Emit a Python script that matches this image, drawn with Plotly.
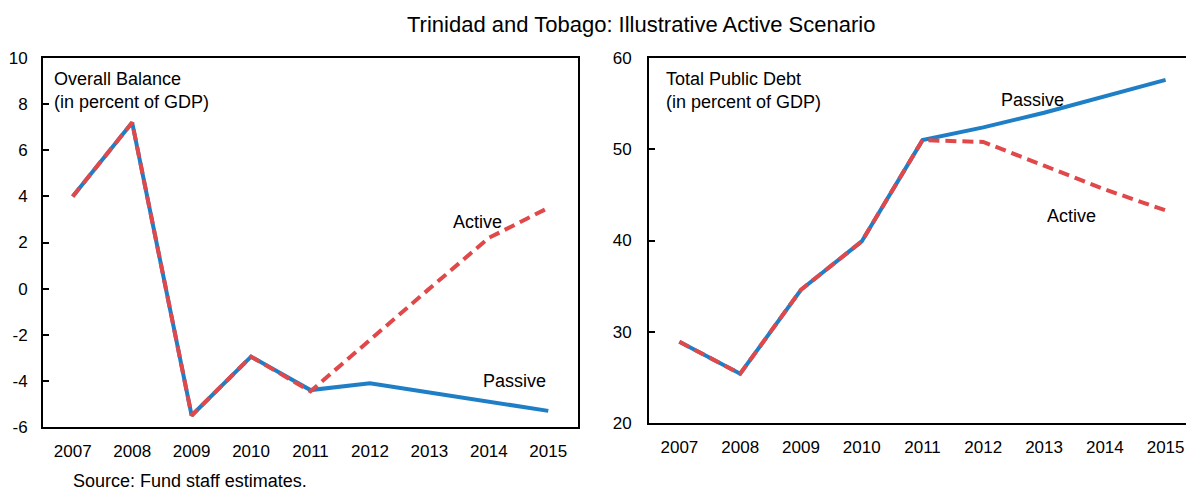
import plotly.graph_objects as go

years = ["2007", "2008", "2009", "2010", "2011", "2012", "2013", "2014", "2015"]
bal_passive = [4.0, 7.2, -5.5, -2.95, -4.4, -4.1, -4.5, -4.9, -5.3]
bal_active = [4.0, 7.2, -5.5, -2.95, -4.45, -2.2, 0.0, 2.2, 3.5]
debt_passive = [28.9, 25.4, 34.6, 39.9, 51.0, 52.4, 54.0, 55.8, 57.6]
debt_active = [28.9, 25.4, 34.6, 39.9, 51.0, 50.8, 48.2, 45.6, 43.3]
left_yticks = [-6, -4, -2, 0, 2, 4, 6, 8, 10]
left_yticktext = ["-6", "-4", "-2", "0", "2", "4", "6", "8", "10"]
right_yticks = [20, 30, 40, 50, 60]

W, H = 1186, 493
BLUE = "#1f7fc6"
RED = "#e0484a"
FONT = "Liberation Sans, Arial, sans-serif"
xs = list(range(len(years)))

def px_x(p):
    return p / W

def px_y(p):
    return 1 - p / H

fig = go.Figure()

fig.add_trace(go.Scatter(x=xs, y=bal_passive, mode="lines", line=dict(color=BLUE, width=4),
                         xaxis="x", yaxis="y", showlegend=False))
fig.add_trace(go.Scatter(x=xs, y=bal_active, mode="lines", line=dict(color=RED, width=4, dash="11px,6px"),
                         xaxis="x", yaxis="y", showlegend=False))
fig.add_trace(go.Scatter(x=xs, y=debt_passive, mode="lines", line=dict(color=BLUE, width=4),
                         xaxis="x2", yaxis="y2", showlegend=False))
fig.add_trace(go.Scatter(x=xs, y=debt_active, mode="lines", line=dict(color=RED, width=4, dash="11px,6px"),
                         xaxis="x2", yaxis="y2", showlegend=False))

tickfont = dict(family=FONT, size=17, color="black")
L_dom_x = [px_x(43), px_x(578)]
L_dom_y = [px_y(427), px_y(58)]
R_dom_x = [px_x(649), 1.0]
R_dom_y = [px_y(423), px_y(58)]
n = len(years)
R_range_end = -0.5 + (W - 649) / (547 / 9)

zero_pos = L_dom_y[0] + (0 - (-6)) / 16 * (L_dom_y[1] - L_dom_y[0])

fig.update_layout(
    width=W, height=H, margin=dict(l=0, r=0, t=0, b=0, autoexpand=False),
    paper_bgcolor="white", plot_bgcolor="white",
    font=dict(family=FONT, color="black"),
    xaxis=dict(domain=L_dom_x, range=[-0.5, n - 0.5], anchor="y",
               tickvals=xs, ticktext=years, ticks="", tickfont=tickfont,
               showline=True, linecolor="black", linewidth=2, mirror=True,
               showgrid=False, zeroline=False, ticklabelstandoff=8),
    xaxis3=dict(domain=L_dom_x, range=[-0.5, n - 0.5], anchor="free", position=zero_pos,
                overlaying="x", tickvals=[i + 0.5 for i in range(n - 1)], showticklabels=False,
                ticks="inside", ticklen=7, tickwidth=2, tickcolor="black",
                showline=True, linecolor="black", linewidth=2, showgrid=False, zeroline=False),
    yaxis=dict(domain=L_dom_y, range=[-6, 10], anchor="x", tickvals=left_yticks,
               ticktext=left_yticktext,
               ticks="inside", ticklen=6, tickwidth=2, tickcolor="black", tickfont=tickfont,
               showline=True, linecolor="black", linewidth=2, mirror=True,
               showgrid=False, zeroline=False, ticklabelstandoff=10),
    xaxis2=dict(domain=R_dom_x, range=[-0.5, R_range_end], anchor="y2",
                tickvals=xs, ticktext=years, tickfont=tickfont,
                showline=True, linecolor="black", linewidth=2, mirror=True,
                ticks="", showgrid=False, zeroline=False, ticklabelstandoff=8),
    xaxis4=dict(domain=R_dom_x, range=[-0.5, R_range_end], anchor="y2", overlaying="x2",
                tickvals=[i + 0.5 for i in range(n - 1)], showticklabels=False,
                ticks="inside", ticklen=7, tickwidth=2, tickcolor="black",
                showline=False, showgrid=False, zeroline=False),
    yaxis2=dict(domain=R_dom_y, range=[20, 60], anchor="x2", tickvals=right_yticks,
                ticks="inside", ticklen=6, tickwidth=2, tickcolor="black", tickfont=tickfont,
                showline=True, linecolor="black", linewidth=2, mirror=False,
                showgrid=False, zeroline=False, ticklabelstandoff=12),
)

ann_font = dict(family=FONT, size=18, color="black")
fig.add_annotation(text="Trinidad and Tobago: Illustrative Active Scenario", xref="paper", yref="paper",
                   x=px_x(641), y=px_y(25), showarrow=False, font=dict(family=FONT, size=22, color="black"),
                   xanchor="center", yanchor="middle")
fig.add_annotation(text="Overall Balance<br>(in percent of GDP)", xref="paper", yref="paper",
                   x=px_x(52), y=px_y(67), showarrow=False, font=ann_font, align="left",
                   xanchor="left", yanchor="top")
fig.add_annotation(text="Active", xref="paper", yref="paper", x=px_x(477), y=px_y(222),
                   showarrow=False, font=ann_font, xanchor="center", yanchor="middle")
fig.add_annotation(text="Passive", xref="paper", yref="paper", x=px_x(514), y=px_y(381),
                   showarrow=False, font=ann_font, xanchor="center", yanchor="middle")
fig.add_annotation(text="Total Public Debt<br>(in percent of GDP)", xref="paper", yref="paper",
                   x=px_x(664), y=px_y(67), showarrow=False, font=ann_font, align="left",
                   xanchor="left", yanchor="top")
fig.add_annotation(text="Passive", xref="paper", yref="paper", x=px_x(1032), y=px_y(100),
                   showarrow=False, font=ann_font, xanchor="center", yanchor="middle")
fig.add_annotation(text="Active", xref="paper", yref="paper", x=px_x(1071), y=px_y(216),
                   showarrow=False, font=ann_font, xanchor="center", yanchor="middle")
fig.add_annotation(text="Source: Fund staff estimates.", xref="paper", yref="paper",
                   x=px_x(71), y=0, showarrow=False,
                   font=dict(family=FONT, size=18, color="black"), xanchor="left", yanchor="bottom")

fig.write_html("out.html")
